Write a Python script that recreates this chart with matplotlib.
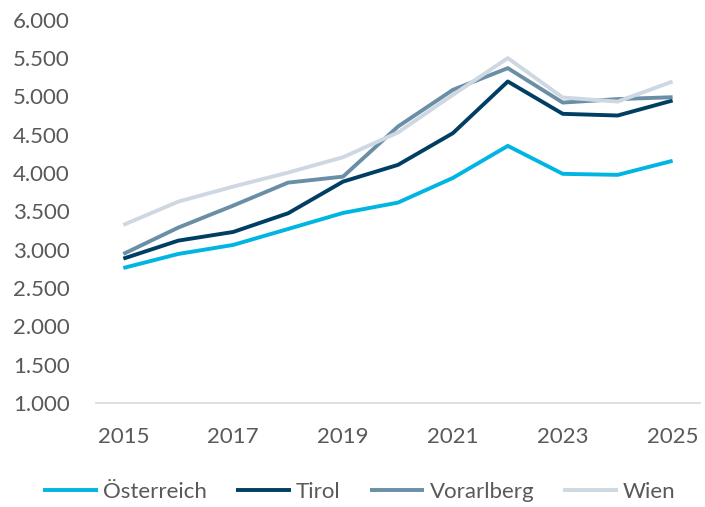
import matplotlib
matplotlib.use("Agg")
import matplotlib.pyplot as plt
from matplotlib.ticker import FuncFormatter

years = list(range(2015, 2026))
oesterreich = [2762, 2945, 3063, 3271, 3480, 3615, 3937, 4355, 3990, 3977, 4160]
tirol = [2884, 3119, 3232, 3476, 3889, 4107, 4521, 5195, 4773, 4751, 4947]
vorarlberg = [2945, 3289, 3576, 3876, 3954, 4607, 5086, 5369, 4920, 4965, 4990]
wien = [3324, 3628, 3824, 4007, 4207, 4530, 5021, 5500, 4986, 4933, 5195]

series_names = ["Österreich", "Tirol", "Vorarlberg", "Wien"]
colors = ["#00b5e2", "#003f63", "#6a8ea6", "#cdd8e2"]

plt.rcParams['font.family'] = ['Lato', 'DejaVu Sans']
text_color = "#595959"

fig = plt.figure(figsize=(7.05, 5.07), dpi=100)
ax = fig.add_axes([0.136, 0.205, 0.857, 0.756])

for name, vals, c in zip(series_names, [oesterreich, tirol, vorarlberg, wien], colors):
    ax.plot(years, vals, color=c, lw=2.8, label=name, solid_capstyle='butt')

ax.set_xlim(2014.5, 2025.5)
ax.set_ylim(1000, 6000)
ax.set_yticks(range(1000, 6001, 500))
ax.set_xticks(range(2015, 2026, 2))
ax.yaxis.set_major_formatter(FuncFormatter(lambda v, p: f"{int(v):,}".replace(",", ".")))

for s in ["top", "right", "left"]:
    ax.spines[s].set_visible(False)
ax.spines["bottom"].set_color("#d9d9d9")
ax.spines["bottom"].set_linewidth(1.2)
ax.tick_params(axis='both', length=0, labelsize=16, colors=text_color)
ax.tick_params(axis='y', pad=19)
ax.tick_params(axis='x', pad=17)

leg = fig.legend(loc='center', bbox_to_anchor=(0.51, 0.03), ncol=4, frameon=False,
                 fontsize=16, handlelength=2.45, columnspacing=1.3, handletextpad=0.25)
for t in leg.get_texts():
    t.set_color(text_color)

fig.savefig("out.png", dpi=100)
